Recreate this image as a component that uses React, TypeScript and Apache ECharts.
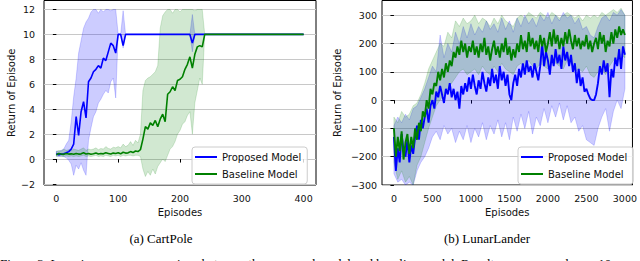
import React, { useEffect, useRef } from 'react';
import * as echarts from 'echarts';

// ---------- CartPole (left) ----------
const cartEpisodes = [...Array.from({ length: 62 }, (_, i) => i * 4), 400];
const cartProposedMean = [
  0.45, 0.35, 0.4, 0.42, 0.5, 0.6, 0.8, 1.2, 3.4, 1.9, 3.8, 4.6, 3.3, 6.2, 6.5, 7.0, 7.2, 7.5, 7.3, 8.1, 7.9, 8.6, 9.3, 9.1, 8.5,
  10, 10, 9.1, 10,
  10, 10, 10, 10, 10, 10, 10, 10, 10, 10, 10, 10, 10, 10, 10, 10, 10, 10, 10, 10, 10, 10, 10, 10, 10, 10,
  9.3, 10, 10, 10, 10, 10, 10, 10,
];
const cartProposedLow = [
  0.25, 0.2, 0.25, 0.2, 0.1, -0.1, -0.4, -1.3, -0.5, -0.8, -0.3, -0.9, -1.3, 1.5, 2.5, 3.4, 3.8, 4.5, 4.8, 5.2, 5.5, 5.3, 6.2, 6.5, 4.9,
  10, 10, 8.9, 10,
  10, 10, 10, 10, 10, 10, 10, 10, 10, 10, 10, 10, 10, 10, 10, 10, 10, 10, 10, 10, 10, 10, 10, 10, 10, 10,
  8.6, 10, 10, 10, 10, 10, 10, 10,
];
const cartProposedHigh = [
  0.65, 0.6, 0.7, 0.8, 1.2, 1.5, 3.0, 5.0, 6.5, 8.5, 9.5, 10.5, 11.0, 11.3, 11.8, 12, 12, 11.7, 12, 11.8, 12, 12, 11.9, 12, 12,
  10, 10, 11.9, 10,
  10, 10, 10, 10, 10, 10, 10, 10, 10, 10, 10, 10, 10, 10, 10, 10, 10, 10, 10, 10, 10, 10, 10, 10, 10, 10,
  11.6, 10, 10, 10, 10, 10, 10, 10,
];
const cartBaselineMean = [
  0.35, 0.45, 0.4, 0.38, 0.45, 0.4, 0.42, 0.38, 0.45, 0.4, 0.42, 0.5, 0.4, 0.45, 0.38, 0.42, 0.48, 0.4, 0.45, 0.42,
  0.5, 0.45, 0.4, 0.48, 0.45, 0.5, 0.42, 0.55, 0.48, 0.5, 0.6, 0.52, 0.65, 0.6, 0.75,
  1.6, 2.6, 2.4, 2.9, 2.7, 3.1, 2.6, 3.2, 3.6, 3.0, 5.2, 5.4, 5.8, 5.5, 6.3, 6.4, 6.6, 7.2, 7.6, 8.2, 7.3, 8.4, 9.0, 9.1, 9.0,
  10, 10, 10,
];
const cartBaselineLow = [
  0.2, 0.25, 0.2, 0.2, 0.25, 0.2, 0.25, 0.2, 0.25, 0.2, 0.25, 0.3, 0.2, 0.25, 0.2, 0.25, 0.3, 0.2, 0.25, 0.2,
  0.3, 0.25, 0.2, 0.3, 0.25, 0.3, 0.2, 0.3, 0.25, 0.3, 0.3, 0.25, 0.3, 0.3, 0.2,
  -0.8, -1.4, -1.0, -1.3, -0.8, -1.2, -0.6, -0.3, 0.0, -0.2, 0.3, 0.8, 1.0, 1.4, 2.0, 2.3, 2.8, 3.0, 3.5, 3.8, 2.0, 4.5, 5.5, 6.5, 6.0,
  10, 10, 10,
];
const cartBaselineHigh = [
  0.6, 0.7, 0.65, 0.8, 0.7, 0.75, 0.7, 0.8, 0.75, 0.7, 0.8, 0.9, 0.7, 0.8, 0.75, 0.8, 0.9, 0.75, 0.85, 0.8,
  1.0, 0.85, 0.8, 0.95, 0.9, 1.0, 0.9, 1.2, 1.0, 1.1, 1.4, 1.1, 1.5, 1.3, 2.0,
  5.5, 6.3, 6.5, 6.6, 6.8, 7.0, 7.5, 10.5, 11.5, 11.8, 12, 12, 11.7, 12, 12, 11.8, 12, 12, 12, 12, 12, 11.9, 12, 12, 12,
  10, 10, 10,
];
const cartXTicks = [0, 100, 200, 300, 400];
const cartYTicks = [-2, 0, 2, 4, 6, 8, 10, 12];

// ---------- LunarLander (right) ----------
const lunarEpisodes = Array.from({ length: 121 }, (_, i) => i * 25);
const lunarBandEpisodes = Array.from({ length: 61 }, (_, i) => i * 50);
const lunarProposedMean = [
  -130, -250, -170, -220, -120, -180, -200, -140, -220, -160, -190, -130, -90, -140, -70, -100, -60, -30, -80, -20,
  0, -30, 30, 10, 50, 20, -10, 40, 20, 60, 10, 40, 0, 30, -30, 50, 20, 60, 30, 80,
  40, 90, 50, 20, 70, 40, 100, 60, 30, 80, 50, 110, 60, 90, 40, 120, 70, 100, 50, 90,
  20, 0, 60, 90, 50, 110, 80, 130, 90, 140, 100, 120, 80, 130, 100, 70, 120, 200, 120, 170,
  140, 90, 160, 120, 180, 130, 160, 110, 190, 140, 170, 120, 160, 100, 130, 60, 110, 50, 80, 30,
  40, 20, 5, 0, 0, 20, 60, 120, 90, 140, 100, 130, 10, 110, 80, 150, 120, 180, 110, 190,
  160,
];
const lunarBaselineMean = [
  -100, -200, -130, -180, -110, -210, -150, -120, -190, -130, -170, -100, -140, -80, -110, -40, -60, 0, -30, 40,
  20, 60, 50, 100, 70, 110, 80, 130, 100, 140, 120, 170, 150, 190, 160, 210, 170, 200, 150, 190,
  170, 210, 160, 190, 150, 200, 170, 220, 160, 190, 140, 180, 210, 160, 190, 150, 200, 170, 220, 160,
  190, 140, 180, 150, 200, 170, 230, 180, 210, 170, 240, 190, 220, 180, 210, 170, 230, 190, 220, 170,
  200, 240, 190, 250, 200, 230, 180, 220, 190, 240, 200, 250, 210, 180, 230, 190, 220, 180, 210, 190,
  230, 180, 210, 170, 200, 220, 180, 240, 200, 230, 170, 210, 190, 240, 200, 250, 220, 260, 230, 250,
  230,
];
const lunarProposedLow = [
  -260, -290, -280, -300, -290, -300, -250, -220, -200, -170, -130, -110, -140, -90, -120, -100, -150, -110, -140, -90,
  -150, -100, -130, -80, -140, -90, -120, -70, -130, -80, -140, -60, -110, -50, -100, -40, -120, -60, -90, -30,
  -80, -20, -60, -10, -70, -20, -80, -60, -110, -90, -140, -150, -160, -100, -60, -30, -110, -40, 0, -30,
  40,
];
const lunarProposedHigh = [
  -90, -60, -80, -50, -70, -30, -20, 10, 40, 80, 120, 100, 230, 150, 200, 170, 240, 200, 260, 220,
  270, 230, 260, 240, 280, 250, 270, 240, 290, 250, 280, 240, 290, 260, 300, 270, 290, 260, 300, 280,
  310, 270, 300, 280, 310, 290, 300, 270, 290, 250, 260, 230, 220, 260, 290, 300, 280, 310, 300, 320,
  300,
];
const lunarBaselineLow = [
  -220, -280, -250, -290, -270, -300, -230, -200, -150, -100, -60, -20, 0, 20, 40, 60, 80, 100, 110, 90,
  100, 110, 90, 120, 100, 90, 120, 100, 130, 110, 100, 90, 120, 130, 110, 140, 120, 110, 130, 120,
  110, 140, 130, 120, 110, 140, 130, 100, 110, 100, 120, 90, 80, 100, 110, 90, 120, 140, 150, 160,
  150,
];
const lunarBaselineHigh = [
  -60, -80, -40, -60, -50, -20, -10, 20, 60, 110, 140, 170, 200, 190, 240, 220, 280, 260, 290, 270,
  280, 300, 270, 290, 280, 260, 290, 270, 300, 280, 270, 260, 290, 300, 290, 310, 300, 290, 310, 300,
  290, 310, 300, 290, 300, 310, 300, 290, 300, 280, 300, 290, 300, 290, 310, 300, 310, 320, 310, 325,
  300,
];
const lunarXTicks = [0, 500, 1000, 1500, 2000, 2500, 3000];
const lunarYTicks = [-300, -200, -100, 0, 100, 200, 300];

const seriesNames = ['Proposed Model', 'Baseline Model'];
const captions = ['(a) CartPole', '(b) LunarLander'];
const figureCaption =
  'Figure 3: Learning curves comparison between the proposed model and baseline model. Results are averaged over 10 runs.';

const BLUE = '#0000ff';
const GREEN = '#008000';
const FONT = 'DejaVu Sans';

const minus = (v: number) => String(v).replace('-', '\u2212');

function bandSeries(xs: number[], lows: number[], highs: number[], fill: string, stroke: string, idx: number) {
  const data = xs.map((x, i) => [x, lows[i], highs[i]]);
  return {
    type: 'custom',
    name: 'band' + idx + fill,
    xAxisIndex: idx,
    yAxisIndex: idx,
    clip: true,
    silent: true,
    data,
    encode: { x: 0, y: [1, 2] },
    renderItem: (params: any, api: any) => {
      if (params.dataIndex !== 0) return null;
      const upper = data.map((d) => api.coord([d[0], d[2]]));
      const lower = data.map((d) => api.coord([d[0], d[1]])).reverse();
      return {
        type: 'polygon',
        shape: { points: upper.concat(lower) },
        style: { fill, stroke, lineWidth: 0.8 },
      };
    },
  };
}

function lineSeries(name: string, xs: number[], ys: number[], color: string, idx: number, width: number) {
  return {
    type: 'line',
    name,
    xAxisIndex: idx,
    yAxisIndex: idx,
    data: xs.map((x, i) => [x, ys[i]]),
    symbol: 'none',
    clip: true,
    lineStyle: { color, width },
    itemStyle: { color },
  };
}

function xAxis(idx: number, min: number, max: number, ticks: number[]) {
  return {
    type: 'value',
    gridIndex: idx,
    min,
    max,
    name: 'Episodes',
    nameLocation: 'middle',
    nameGap: 21,
    nameTextStyle: { fontFamily: FONT, fontSize: 10, color: '#111' },
    axisLine: { show: false },
    axisTick: { show: true, length: 3.5, customValues: ticks, lineStyle: { color: '#000' } },
    axisLabel: { customValues: ticks, fontFamily: FONT, fontSize: 9.5, color: '#111', margin: 8, formatter: minus },
    splitLine: { show: false },
  };
}

function yAxis(idx: number, min: number, max: number, ticks: number[], nameGap: number, margin: number) {
  return {
    type: 'value',
    gridIndex: idx,
    min,
    max,
    name: 'Return of Episode',
    nameLocation: 'middle',
    nameRotate: 90,
    nameGap,
    nameTextStyle: { fontFamily: FONT, fontSize: 10, color: '#111' },
    axisLine: { show: false },
    axisTick: { show: true, length: 3.5, customValues: ticks, lineStyle: { color: '#000' } },
    axisLabel: { customValues: ticks, fontFamily: FONT, fontSize: 9.5, color: '#111', margin, formatter: minus },
    splitLine: { show: true, lineStyle: { color: '#c8c8c8', width: 1 } },
  };
}

function legend(left: number, top: number) {
  return {
    data: seriesNames,
    orient: 'vertical',
    left,
    top,
    icon: 'rect',
    itemWidth: 22,
    itemHeight: 2,
    itemGap: 5,
    padding: [4, 6, 4, 3],
    backgroundColor: 'rgba(255,255,255,0.8)',
    borderColor: '#cccccc',
    borderWidth: 1,
    borderRadius: 3,
    selectedMode: false,
    textStyle: { fontFamily: FONT, fontSize: 10, color: '#111', lineHeight: 12 },
  };
}

export default function App() {
  const ref = useRef<HTMLDivElement>(null);
  useEffect(() => {
    if (!ref.current) return;
    const chart = echarts.init(ref.current, undefined, { renderer: 'svg' });
    chart.setOption({
      animation: false,
      backgroundColor: '#ffffff',
      grid: [
        { left: 44, right: 324, top: 0.5, bottom: 76, show: true, borderColor: '#000', borderWidth: 1, backgroundColor: 'transparent' },
        { left: 382, right: 4, top: 0.5, bottom: 76, show: true, borderColor: '#000', borderWidth: 1, backgroundColor: 'transparent' },
      ],
      xAxis: [xAxis(0, -20, 420, cartXTicks), xAxis(1, -155, 3098, lunarXTicks)],
      yAxis: [yAxis(0, -2.08, 12.72, cartYTicks, 28, 9), yAxis(1, -300, 352, lunarYTicks, 40, 5)],
      legend: [legend(192, 147), legend(518, 147)],
      series: [
        bandSeries(cartEpisodes, cartProposedLow, cartProposedHigh, 'rgba(0,0,255,0.2)', 'rgba(0,0,255,0.22)', 0),
        lineSeries(seriesNames[0], cartEpisodes, cartProposedMean, BLUE, 0, 1.6),
        bandSeries(cartEpisodes, cartBaselineLow, cartBaselineHigh, 'rgba(0,128,0,0.18)', 'rgba(0,128,0,0.2)', 0),
        lineSeries(seriesNames[1], cartEpisodes, cartBaselineMean, GREEN, 0, 1.6),
        bandSeries(lunarBandEpisodes, lunarProposedLow, lunarProposedHigh, 'rgba(0,0,255,0.2)', 'rgba(0,0,255,0.22)', 1),
        lineSeries(seriesNames[0], lunarEpisodes, lunarProposedMean, BLUE, 1, 1.9),
        bandSeries(lunarBandEpisodes, lunarBaselineLow, lunarBaselineHigh, 'rgba(0,128,0,0.18)', 'rgba(0,128,0,0.2)', 1),
        lineSeries(seriesNames[1], lunarEpisodes, lunarBaselineMean, GREEN, 1, 1.9),
      ],
      graphic: [
        { type: 'text', x: 161, y: 238, style: { text: captions[0], font: '13px "Liberation Serif"', fill: '#000', textAlign: 'center', textVerticalAlign: 'middle' } },
        { type: 'text', x: 487, y: 238, style: { text: captions[1], font: '13px "Liberation Serif"', fill: '#000', textAlign: 'center', textVerticalAlign: 'middle' } },
        { type: 'text', x: 0, y: 257, style: { text: figureCaption, font: '13px "Liberation Serif"', fill: '#000', textAlign: 'left', textVerticalAlign: 'top' } },
      ],
    });
    return () => chart.dispose();
  }, []);
  return <div ref={ref} style={{ position: 'absolute', left: 0, top: 0, width: 640, height: 261 }} />;
}
